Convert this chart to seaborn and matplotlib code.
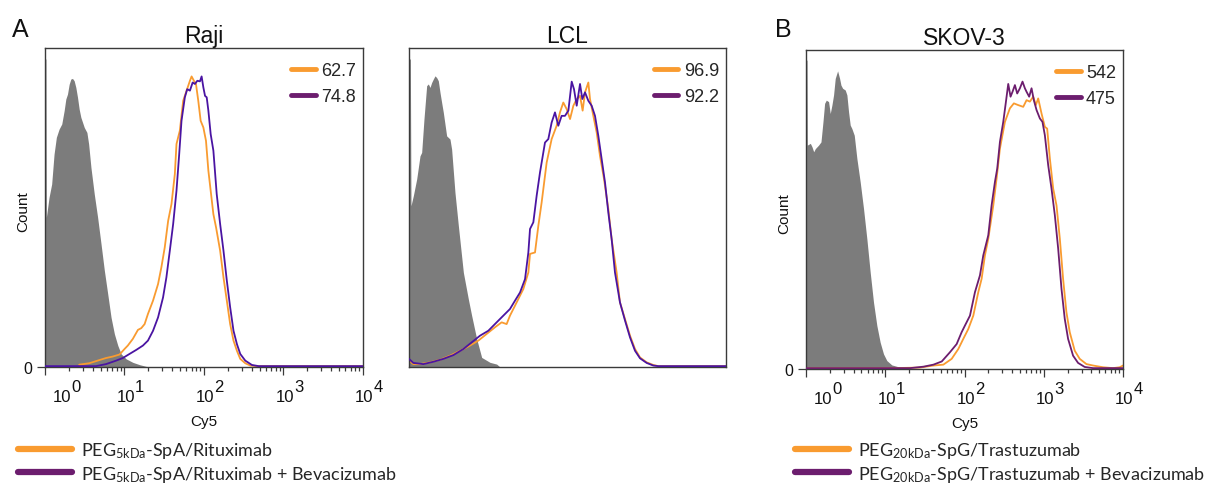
import numpy as np
import matplotlib
matplotlib.use("Agg")
import matplotlib.pyplot as plt
from matplotlib.lines import Line2D
from matplotlib.ticker import FixedLocator
import seaborn as sns

# ------------------------------------------------------------------ data
panel_titles = ["Raji", "LCL", "SKOV-3"]
decade_exponents = [0, 1, 2, 3, 4]
mfi_orange = ["62.7", "96.9", "542"]
mfi_purple = ["74.8", "92.2", "475"]
legend_a = ["PEG$_{\\mathregular{5kDa}}$-SpA/Rituximab",
            "PEG$_{\\mathregular{5kDa}}$-SpA/Rituximab + Bevacizumab"]
legend_b = ["PEG$_{\\mathregular{20kDa}}$-SpG/Trastuzumab",
            "PEG$_{\\mathregular{20kDa}}$-SpG/Trastuzumab + Bevacizumab"]

# x values are log10(Cy5), y values are % of mode
raji_iso_log = [0.0, 0.012, 0.017, 0.051, 0.084, 0.114, 0.143, 0.177, 0.211, 0.241,
                0.262, 0.283, 0.304, 0.325, 0.346, 0.367, 0.388, 0.409, 0.430, 0.451,
                0.494, 0.527, 0.549, 0.578, 0.620, 0.662, 0.705, 0.747, 0.789, 0.831,
                0.873, 0.916, 0.958, 1.021, 1.105, 1.190, 1.274, 1.359]
raji_iso_pct = [106.2, 106.2, 51.6, 58.5, 63.1, 73.4, 79.2, 82.0, 83.8, 88.4,
                92.4, 94.1, 97.5, 99.3, 99.5, 98.7, 96.4, 93.0, 88.9, 86.1,
                82.6, 80.9, 76.9, 68.8, 59.6, 51.6, 42.4, 33.2, 25.2, 17.1,
                11.4, 7.4, 4.5, 2.8, 1.6, 0.8, 0.2, 0.0]
raji_or_log = [0.430, 0.557, 0.662, 0.768, 0.852, 0.937, 1.000, 1.042, 1.105, 1.169,
               1.211, 1.253, 1.295, 1.359, 1.422, 1.464, 1.506, 1.549, 1.591, 1.633,
               1.654, 1.696, 1.738, 1.781, 1.823, 1.844, 1.873, 1.899, 1.928, 1.958,
               1.992, 2.025, 2.055, 2.084, 2.118, 2.152, 2.203, 2.245, 2.287, 2.329,
               2.371, 2.414, 2.456, 2.519, 2.582, 2.667, 4.0]
raji_or_pct = [0.8, 1.3, 2.2, 3.1, 3.6, 4.3, 6.2, 7.4, 9.7, 12.8,
               13.4, 14.8, 18.3, 22.9, 28.6, 34.4, 41.2, 50.4, 56.2, 66.5,
               76.9, 81.5, 91.8, 95.3, 98.7, 100.2, 98.7, 97.6, 91.8, 84.9,
               82.6, 78.0, 67.7, 60.8, 52.7, 48.1, 40.1, 30.9, 22.9, 14.8,
               9.1, 5.6, 2.8, 1.3, 0.5, 0.3, 0.3]
raji_pu_log = [0.0, 0.641, 0.768, 0.895, 0.979, 1.063, 1.148, 1.232, 1.295, 1.359,
               1.422, 1.485, 1.527, 1.570, 1.612, 1.654, 1.688, 1.717, 1.759, 1.789,
               1.823, 1.857, 1.886, 1.916, 1.949, 1.970, 1.992, 2.013, 2.034, 2.055,
               2.084, 2.118, 2.160, 2.203, 2.245, 2.287, 2.329, 2.371, 2.414, 2.456,
               2.519, 2.603, 2.688, 4.0]
raji_pu_pct = [0.3, 0.3, 1.0, 2.2, 3.1, 4.5, 5.9, 7.4, 9.1, 12.5,
               17.1, 24.0, 30.9, 40.1, 49.3, 60.8, 73.4, 84.9, 93.0, 95.8,
               95.3, 98.1, 97.6, 98.7, 98.5, 100.2, 96.4, 93.5, 93.0, 88.4,
               80.3, 74.6, 59.6, 49.3, 40.1, 29.8, 20.6, 12.5, 7.9, 4.5,
               2.2, 0.7, 0.3, 0.3]

lcl_iso_log = [0.0, 0.017, 0.025, 0.055, 0.097, 0.139, 0.160, 0.189, 0.223, 0.244,
               0.265, 0.286, 0.307, 0.328, 0.349, 0.370, 0.391, 0.412, 0.433, 0.475,
               0.517, 0.538, 0.580, 0.623, 0.686, 0.749, 0.791, 0.854, 0.917, 1.022,
               1.106, 1.148]
lcl_iso_pct = [106.2, 106.2, 55.6, 59.1, 64.8, 72.8, 74.0, 85.5, 97.0, 97.6,
               96.4, 98.1, 99.3, 100.4, 99.8, 98.7, 94.7, 91.2, 87.8, 79.7,
               78.6, 75.1, 60.2, 48.7, 32.6, 23.4, 17.7, 9.7, 3.3, 1.6,
               1.0, 0.0]
lcl_or_log = [0.0, 0.055, 0.139, 0.265, 0.391, 0.517, 0.644, 0.770, 0.875, 0.980,
              1.085, 1.169, 1.232, 1.274, 1.359, 1.443, 1.506, 1.527, 1.590, 1.632,
              1.674, 1.737, 1.800, 1.863, 1.905, 1.947, 1.990, 2.032, 2.074, 2.116,
              2.158, 2.191, 2.221, 2.263, 2.284, 2.326, 2.368, 2.410, 2.461, 2.515,
              2.557, 2.620, 2.662, 2.726, 2.789, 2.852, 2.915, 2.999, 3.083, 3.146,
              4.0]
lcl_or_pct = [2.2, 1.0, 1.0, 1.6, 2.5, 3.9, 5.6, 7.4, 9.1, 11.4,
              13.7, 15.4, 14.8, 17.7, 22.3, 26.9, 32.6, 39.0, 39.5, 48.7,
              56.8, 70.5, 78.6, 83.2, 87.8, 91.2, 88.9, 85.5, 90.1, 92.4,
              93.5, 88.4, 94.7, 98.1, 92.4, 86.6, 80.9, 72.8, 64.8, 54.5,
              44.1, 32.6, 22.3, 16.5, 10.8, 6.2, 3.3, 1.6, 0.7, 0.3,
              0.3]
lcl_pu_log = [0.0, 0.055, 0.181, 0.307, 0.433, 0.559, 0.686, 0.791, 0.896, 1.001,
              1.106, 1.190, 1.274, 1.338, 1.401, 1.464, 1.506, 1.527, 1.569, 1.611,
              1.653, 1.716, 1.758, 1.800, 1.842, 1.884, 1.926, 1.968, 2.011, 2.053,
              2.082, 2.116, 2.158, 2.187, 2.221, 2.263, 2.305, 2.347, 2.389, 2.431,
              2.473, 2.515, 2.557, 2.599, 2.662, 2.726, 2.789, 2.852, 2.915, 2.999,
              3.083, 3.146, 4.0]
lcl_pu_pct = [2.8, 1.4, 1.0, 1.8, 2.8, 4.1, 6.2, 8.5, 10.8, 12.5,
              15.4, 17.7, 20.0, 22.9, 25.7, 30.3, 39.5, 47.6, 49.9, 59.1,
              67.1, 77.4, 78.6, 84.3, 87.8, 83.2, 86.6, 86.6, 88.4, 98.4,
              95.8, 90.1, 97.6, 92.4, 94.7, 91.8, 90.1, 86.6, 79.7, 71.7,
              63.7, 53.3, 44.1, 32.6, 22.3, 16.0, 10.2, 5.6, 3.0, 1.4,
              0.5, 0.3, 0.3]

skov_iso_log = [0.0, 0.013, 0.017, 0.055, 0.076, 0.097, 0.118, 0.159, 0.189, 0.214,
                0.235, 0.256, 0.285, 0.306, 0.327, 0.348, 0.369, 0.399, 0.424, 0.441,
                0.462, 0.495, 0.516, 0.537, 0.558, 0.579, 0.609, 0.642, 0.684, 0.726,
                0.768, 0.810, 0.852, 0.894, 0.936, 0.978, 1.020, 1.083, 1.188, 1.314,
                1.440]
skov_iso_pct = [106.5, 106.5, 77.2, 77.8, 76.6, 74.9, 76.0, 77.2, 78.3, 85.2,
                91.6, 92.7, 92.2, 88.1, 91.0, 94.5, 100.2, 102.8, 100.2, 97.9,
                96.8, 96.2, 94.5, 88.7, 84.1, 82.9, 80.6, 72.6, 64.5, 55.3,
                44.9, 33.4, 23.0, 15.0, 9.2, 5.2, 2.9, 1.4, 0.6, 0.2,
                0.0]
skov_or_log = [0.0, 1.104, 1.440, 1.608, 1.733, 1.838, 1.922, 1.985, 2.048, 2.111,
               2.174, 2.216, 2.258, 2.300, 2.363, 2.405, 2.447, 2.510, 2.573, 2.623,
               2.678, 2.741, 2.783, 2.825, 2.867, 2.900, 2.930, 2.972, 3.014, 3.043,
               3.077, 3.119, 3.161, 3.203, 3.244, 3.286, 3.328, 3.391, 3.454, 3.538,
               3.622, 3.748, 3.874, 3.958, 4.0]
skov_or_pct = [0.3, 0.3, 0.5, 1.2, 1.5, 3.5, 6.9, 10.4, 13.8, 18.4,
               26.5, 31.1, 39.2, 44.9, 56.4, 65.7, 76.0, 85.2, 89.9, 91.6,
               91.0, 90.4, 92.7, 92.2, 93.9, 91.0, 93.3, 88.1, 83.5, 82.9,
               72.6, 62.2, 56.4, 44.9, 31.1, 19.6, 12.7, 6.3, 3.5, 1.7,
               1.2, 0.6, 0.3, 0.6, 1.2]
skov_pu_log = [0.0, 1.314, 1.482, 1.608, 1.713, 1.817, 1.901, 1.964, 2.006, 2.069,
               2.132, 2.195, 2.237, 2.300, 2.342, 2.384, 2.413, 2.447, 2.489, 2.523,
               2.552, 2.581, 2.606, 2.636, 2.665, 2.699, 2.732, 2.762, 2.783, 2.816,
               2.846, 2.875, 2.909, 2.951, 2.984, 3.014, 3.056, 3.098, 3.140, 3.182,
               3.224, 3.265, 3.307, 3.370, 3.433, 3.517, 3.622, 4.0]
skov_pu_pct = [0.3, 0.3, 0.8, 1.5, 2.6, 5.8, 8.6, 12.7, 15.0, 18.4,
               26.5, 32.3, 39.2, 46.1, 56.4, 64.5, 69.1, 78.3, 85.2, 92.2,
               98.3, 93.9, 95.6, 97.9, 95.0, 96.8, 99.1, 96.8, 95.6, 93.9,
               96.8, 92.7, 89.3, 86.4, 85.2, 80.6, 70.3, 62.2, 53.0, 41.5,
               27.6, 17.3, 10.4, 4.6, 2.1, 0.7, 0.3, 0.3]

# ------------------------------------------------------------------ style
ORANGE = "#F99B30"
INDIGO = "#4A14A2"
PLUM = "#6C1D6E"
GREY = "#7C7C7C"
FRAME = "#3a3a3a"
INK = "#111111"

sns.set_theme(style="white")
plt.rcParams["font.family"] = ["Liberation Sans", "DejaVu Sans"]
plt.rcParams["mathtext.default"] = "regular"

fig = plt.figure(figsize=(12.23, 4.89), dpi=100)
W, H = 1223.0, 489.0
boxes = [(45, 49, 363, 368), (409, 49, 726, 368), (806, 51, 1123, 370)]

panels = [
    (raji_iso_log, raji_iso_pct, raji_or_log, raji_or_pct, raji_pu_log, raji_pu_pct, INDIGO, True),
    (lcl_iso_log, lcl_iso_pct, lcl_or_log, lcl_or_pct, lcl_pu_log, lcl_pu_pct, INDIGO, False),
    (skov_iso_log, skov_iso_pct, skov_or_log, skov_or_pct, skov_pu_log, skov_pu_pct, PLUM, True),
]

for i, (box, pdata) in enumerate(zip(boxes, panels)):
    x0, y0, x1, y1 = box
    ax = fig.add_axes([x0 / W, 1 - y1 / H, (x1 - x0) / W, (y1 - y0) / H])
    iso_l, iso_p, or_l, or_p, pu_l, pu_p, pcol, show_axis = pdata
    ax.set_xscale("log")

    iso_x = 10.0 ** np.array(iso_l)
    ax.fill_between(iso_x, iso_p, 0, color=GREY, lw=0, zorder=1)
    sns.lineplot(x=10.0 ** np.array(or_l), y=or_p, ax=ax, color=ORANGE, lw=1.3,
                 estimator=None, sort=False, zorder=2)
    sns.lineplot(x=10.0 ** np.array(pu_l), y=pu_p, ax=ax, color=pcol, lw=1.3,
                 estimator=None, sort=False, zorder=3)

    ax.set_xlim(1, 1e4)
    ax.set_ylim(0, 110)
    for s in ax.spines.values():
        s.set_color(FRAME)
        s.set_linewidth(1.0)
    ax.set_xlabel("")
    ax.set_ylabel("")
    ax.set_title(panel_titles[i], fontsize=16.5, pad=4.5, color=INK)

    ax.xaxis.set_major_locator(FixedLocator([10.0 ** k for k in decade_exponents]))
    ax.xaxis.set_minor_locator(FixedLocator([m * 10.0 ** k for k in decade_exponents[:-1]
                                             for m in range(2, 10)]))
    ax.set_yticks([0])
    ax.set_yticklabels(["0"])
    if show_axis:
        ax.tick_params(axis="x", which="major", bottom=True, length=5.5, width=0.9,
                       color=FRAME, labelbottom=False)
        ax.tick_params(axis="x", which="minor", bottom=True, length=3, width=0.9,
                       color=FRAME, labelbottom=False)
        ax.tick_params(axis="y", left=True, length=6, width=0.9, color=FRAME,
                       labelsize=11.5, pad=3, labelcolor=INK)
        for k in decade_exponents:
            dx = 1.0 + (11.5 if k == 0 else 0.0)
            ax.annotate("10", xy=(10.0 ** k, 0), xycoords=ax.get_xaxis_transform(),
                        xytext=(dx, -21), textcoords="offset points",
                        ha="center", va="center", fontsize=12, color=INK)
            ax.annotate(str(k), xy=(10.0 ** k, 0), xycoords=ax.get_xaxis_transform(),
                        xytext=(dx + 10.0, -14), textcoords="offset points",
                        ha="center", va="center", fontsize=12, color=INK)
        ax.text(0.5, -0.169, "Cy5", transform=ax.transAxes, ha="center",
                va="center", fontsize=11, color=INK)
        ax.set_ylabel("Count", fontsize=11, color=INK)
        ax.yaxis.set_label_coords(-0.045, 0.49)
    else:
        ax.tick_params(axis="both", which="both", bottom=False, left=False,
                       labelbottom=False, labelleft=False)

    handles = [Line2D([], [], color=ORANGE, lw=3.5), Line2D([], [], color=PLUM, lw=3.5)]
    ax.legend(handles, [mfi_orange[i], mfi_purple[i]], loc="upper right",
              bbox_to_anchor=(0.995, 0.973),
              frameon=False, fontsize=13, handlelength=1.35, handletextpad=0.3,
              labelspacing=0.5, borderaxespad=0.0, borderpad=0.3)

fig.text(12 / W, 1 - 37 / H, "A", fontsize=18, va="baseline", color=INK)
fig.text(775 / W, 1 - 37 / H, "B", fontsize=18, va="baseline", color=INK)

for labels, xl in [(legend_a, 18), (legend_b, 795)]:
    hs = [Line2D([], [], color=ORANGE, lw=4.5), Line2D([], [], color=PLUM, lw=4.5)]
    fig.legend(hs, labels, loc="upper left", bbox_to_anchor=(xl / W, 1 - 441 / H),
               frameon=False, prop={"family": "Lato", "size": 13},
               handlelength=3.0, handletextpad=0.5, labelspacing=0.2,
               borderpad=0, borderaxespad=0)

fig.savefig("out.png", dpi=100)
